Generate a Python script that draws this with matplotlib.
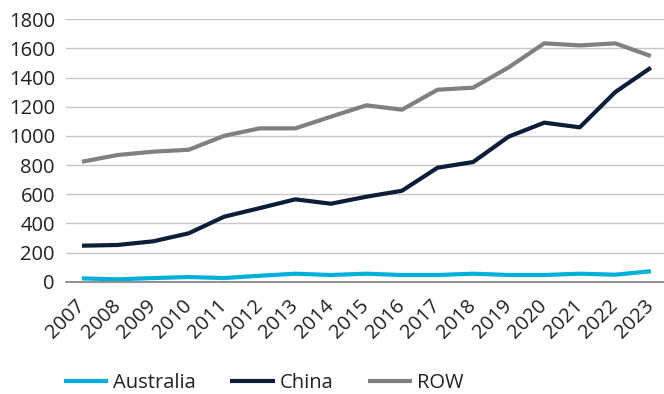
import matplotlib
matplotlib.use("Agg")
import matplotlib.pyplot as plt
import matplotlib.transforms as mtransforms

# data
years = ["2007", "2008", "2009", "2010", "2011", "2012", "2013", "2014", "2015",
         "2016", "2017", "2018", "2019", "2020", "2021", "2022", "2023"]
australia = [23, 16, 25, 32, 25, 41, 55, 46, 55, 46, 46, 55, 46, 46, 55, 48, 72]
china = [247, 252, 277, 332, 446, 505, 565, 535, 583, 624, 782, 821, 995, 1091, 1059, 1301, 1468]
row = [823, 869, 892, 905, 1001, 1052, 1052, 1132, 1210, 1180, 1317, 1331, 1470, 1635, 1621, 1635, 1548]

plt.rcParams["font.family"] = ["Open Sans", "DejaVu Sans"]

fig = plt.figure(figsize=(6.64, 3.94), dpi=100)
ax = fig.add_axes([0.0994, 0.285, 0.9006, 0.666])

x = range(len(years))
ax.plot(x, australia, color="#00b0dc", lw=3, label="Australia", solid_capstyle="butt")
ax.plot(x, china, color="#0b1d38", lw=3, label="China", solid_capstyle="butt")
ax.plot(x, row, color="#808080", lw=3, label="ROW", solid_capstyle="butt")

ax.set_ylim(0, 1800)
ax.set_xlim(-0.45, 16.37)
ax.set_yticks(range(0, 1801, 200))
ax.set_xticks(list(x))
ax.set_xticklabels(years, rotation=45, ha="right", va="center", rotation_mode="anchor")

# nudge the rotated year labels so they hang like the original
shift = mtransforms.ScaledTranslation(5 / 100, 0, fig.dpi_scale_trans)
for lbl in ax.get_xticklabels():
    lbl.set_transform(lbl.get_transform() + shift)

ax.grid(axis="y", color="#c8c8c8", lw=1)
ax.set_axisbelow(True)
for s in ["top", "right", "left"]:
    ax.spines[s].set_visible(False)
ax.spines["bottom"].set_color("#7f7f7f")
ax.spines["bottom"].set_linewidth(1.2)
ax.tick_params(axis="y", length=0, pad=8, labelsize=14.5, colors="#222222")
ax.tick_params(axis="x", length=0, pad=15, labelsize=14.5, colors="#222222")

fig.legend(loc="center left", bbox_to_anchor=(64 / 664, 1 - 383 / 394), ncol=3,
           frameon=False, fontsize=14.5, handlelength=2.2, handletextpad=0.25,
           columnspacing=1.7, borderpad=0, borderaxespad=0,
           labelcolor="#222222")

fig.savefig("out.png", dpi=100)
